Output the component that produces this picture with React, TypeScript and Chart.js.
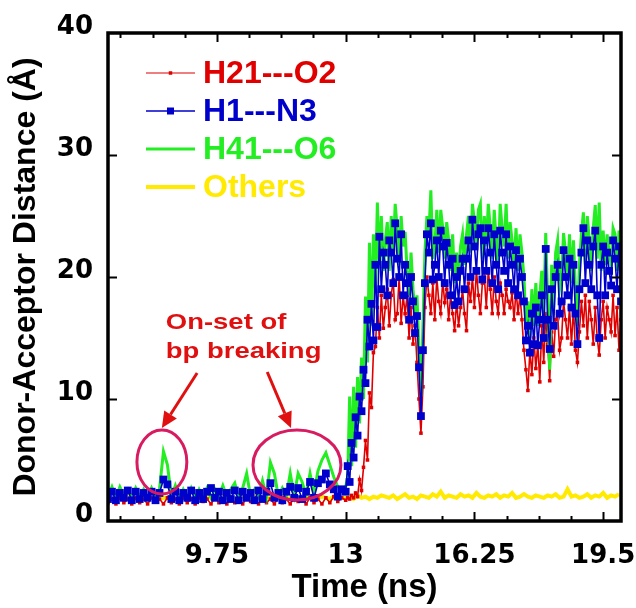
import React, { useEffect, useRef } from "react";
import { Chart, registerables } from "chart.js";

Chart.register(...registerables);

// ---------- sampling grids ----------
const BASE_START = 7.0; // ns, first stretch sampled every 0.1 ns
const BASE_STEP = 0.1;
const RUN_START = 13.0; // ns, second stretch sampled every 0.05 ns
const RUN_STEP = 0.05;
const OTHERS_START = 7.0;
const OTHERS_STEP = 0.1;

// ---------- axes ----------
const X_MIN = 7;
const X_MAX = 19.95;
const X_MAJOR_TICKS = [9.75, 13, 16.25, 19.5];
const X_MINOR_STEP = 0.8125;
const Y_MIN = 0;
const Y_MAX = 40;
const Y_STEP = 10;
const X_TITLE = "Time (ns)";
const Y_TITLE = "Donor-Acceptor Distance (Å)";

const SERIES_NAMES = ["H21---O2", "H1---N3", "H41---O6", "Others"];

// ---------- H21---O2 (red) ----------
const H21_O2_BASE = [
  1.5, 1.8, 1.4, 1.9, 1.5, 1.8, 1.4, 1.9, 1.5, 1.8,
  1.4, 1.9, 1.6, 1.8, 1.4, 1.9, 1.5, 1.8, 1.4, 1.9,
  1.5, 1.8, 1.4, 1.9, 1.6, 1.8, 1.4, 1.9, 1.5, 1.8,
  1.4, 1.9, 1.5, 1.8, 1.4, 1.9, 1.6, 1.8, 1.4, 1.9,
  1.5, 1.8, 1.4, 1.9, 1.5, 1.8, 1.4, 1.9, 1.6, 1.8,
  1.4, 1.9, 1.5, 1.8, 1.4, 1.9, 1.5, 2.0, 1.6, 1.9,
];
const H21_O2_RUN = [
  1.7, 1.9, 1.8, 2.1, 1.9, 2.3, 2.0, 3.4, 2.5, 4.4,
  6.6, 5.0, 10.5, 9.3, 13.8, 14.3, 17.5, 15.0, 18.5, 15.8,
  17.5, 19.0, 16.0, 18.5, 19.8, 16.5, 17.0, 20.0, 16.2, 18.5,
  17.0, 18.5, 15.0, 17.5, 14.5, 16.0, 13.0, 10.0, 7.2, 11.0,
  17.5, 20.0, 18.5, 17.0, 19.5, 16.5, 20.0, 18.0, 17.0, 19.7,
  17.9, 19.0, 16.5, 18.5, 17.0, 15.6, 18.0, 16.0, 17.5, 19.0,
  17.0, 15.6, 19.5, 18.0, 20.0, 17.5, 20.6, 18.5, 17.0, 19.5,
  20.0, 17.5, 20.5, 19.0, 17.0, 20.0, 18.0, 17.0, 19.5, 18.5,
  17.0, 19.0, 18.0, 17.5, 18.7, 16.5, 19.0, 17.0, 18.5, 16.5,
  14.0, 12.4, 10.7, 14.0, 12.0, 15.0, 12.5, 14.5, 11.4, 16.0,
  13.0, 17.0, 14.5, 11.5, 15.5, 13.5, 16.5, 17.0, 14.0, 15.0,
  18.0, 16.5, 15.0, 17.5, 14.5, 17.5, 14.0, 13.0, 15.5, 18.0,
  16.0, 18.5, 15.0, 18.0, 16.5, 14.5, 17.5, 15.0, 13.6, 16.5,
  18.0, 15.0, 17.5, 16.5, 15.5, 18.5, 15.2, 17.5, 14.0, 16.5,
];

// ---------- H1---N3 (blue) ----------
const H1_N3_BASE = [
  1.8, 2.4, 1.7, 2.3, 1.9, 2.5, 1.7, 2.4, 1.8, 2.3,
  1.9, 2.4, 1.7, 2.3, 3.4, 3.0, 1.8, 2.4, 1.7, 2.3,
  1.9, 2.5, 1.7, 2.3, 1.8, 2.4, 2.7, 1.9, 2.4, 1.7,
  2.3, 1.8, 2.5, 1.7, 2.4, 1.9, 2.3, 1.7, 2.5, 1.8,
  2.4, 3.1, 1.9, 2.3, 1.7, 2.4, 2.8, 1.9, 2.7, 1.8,
  2.4, 3.2, 1.9, 3.1, 3.4, 3.9, 3.0, 2.6, 2.0, 2.6,
];
const H1_N3_RUN = [
  2.4, 4.5, 3.2, 6.4, 5.2, 8.5, 7.0, 10.2, 9.0, 12.4,
  11.3, 16.5, 14.3, 17.8, 14.8, 21.0, 15.9, 23.3, 19.0, 22.0,
  21.0, 18.5, 23.0, 22.0, 19.5, 24.4, 21.5, 20.0, 23.5, 18.5,
  21.0, 19.5, 16.5, 20.0, 18.0, 15.4, 16.8, 12.6, 8.6, 14.0,
  19.5, 23.5, 22.0, 24.4, 19.8, 21.0, 23.0, 20.0, 23.8, 22.5,
  19.5, 22.8, 21.0, 18.5, 21.5, 17.7, 20.0, 18.0, 20.5, 21.5,
  19.0, 21.5, 23.0, 20.0, 24.7, 22.5, 20.5, 23.5, 24.0, 19.8,
  23.0, 20.5, 24.0, 22.0, 19.5, 23.5, 21.0, 19.0, 23.8, 22.0,
  20.5, 23.5, 19.5, 22.5, 21.0, 19.0, 22.2, 18.5, 21.5, 20.0,
  18.0, 14.8, 16.0, 13.8, 17.0, 14.5, 17.5, 14.4, 16.5, 18.5,
  15.0, 22.3, 16.5, 14.1, 19.0, 16.0, 20.0, 21.0, 17.0, 18.0,
  22.2, 20.0, 18.5, 21.5, 17.5, 21.0, 17.0, 14.5, 19.0, 22.0,
  24.0, 19.5, 23.0, 21.0, 19.0, 22.5, 23.8, 18.5, 15.0, 21.0,
  22.5, 18.5, 22.0, 20.5, 19.3, 23.0, 21.5, 19.0, 22.5, 18.0,
];

// ---------- H41---O6 (green) ----------
const H41_O6_BASE = [
  2.0, 2.8, 1.9, 2.8, 2.1, 2.6, 1.9, 2.7, 2.0, 2.6,
  1.9, 2.7, 2.0, 2.6, 5.7, 4.6, 2.0, 2.9, 1.9, 2.6,
  2.0, 2.7, 1.9, 2.6, 2.0, 2.7, 1.9, 2.6, 2.0, 2.9,
  2.0, 2.6, 3.1, 1.9, 2.7, 3.9, 2.0, 2.6, 2.0, 3.3,
  2.0, 4.8, 3.9, 2.0, 2.7, 2.0, 3.9, 2.1, 3.9, 3.2,
  2.1, 3.9, 2.3, 4.1, 5.0, 5.6, 4.6, 3.6, 2.8, 2.6,
];
const H41_O6_RUN = [
  2.8, 3.6, 10.2, 4.5, 11.0, 6.0, 11.8, 8.0, 13.4, 10.0,
  18.4, 13.0, 22.8, 16.0, 23.5, 19.0, 26.1, 21.0, 25.0, 20.5,
  23.0, 24.5, 20.5, 25.0, 22.0, 26.0, 24.0, 21.0, 25.0, 22.5,
  23.7, 20.5, 18.5, 22.0, 19.0, 17.0, 18.5, 14.0, 10.2, 16.0,
  22.0, 25.0, 23.5, 27.1, 21.5, 22.5, 25.5, 22.0, 25.5, 24.0,
  21.5, 24.5, 23.0, 20.5, 23.5, 19.5, 22.0, 20.0, 22.5, 23.5,
  21.0, 23.5, 25.0, 22.0, 26.0, 24.5, 22.5, 25.5, 26.0, 21.5,
  25.0, 22.5, 26.0, 24.0, 21.5, 25.5, 23.0, 21.0, 26.0, 24.0,
  22.5, 26.0, 21.5, 24.5, 23.0, 21.0, 24.0, 20.5, 23.5, 22.0,
  20.0, 16.0, 18.0, 15.0, 19.0, 16.0, 19.5, 16.0, 18.5, 20.5,
  17.0, 23.6, 18.0, 12.4, 21.0, 17.5, 22.0, 23.0, 19.0, 20.0,
  23.6, 22.0, 20.0, 23.5, 19.5, 23.0, 19.0, 16.0, 21.0, 23.5,
  25.3, 21.0, 25.0, 23.0, 20.5, 24.0, 25.9, 21.5, 26.1, 20.5,
  23.8, 21.0, 23.5, 22.0, 21.0, 24.0, 23.5, 20.5, 23.8, 20.0,
];

// ---------- Others (yellow) ----------
const OTHERS = [
  1.9, 1.8, 2.0, 1.9, 1.8, 2.0, 1.9, 1.8, 1.9, 2.0,
  1.8, 1.9, 2.0, 1.8, 1.9, 1.9, 2.0, 1.8, 1.9, 2.0,
  1.9, 1.8, 2.0, 1.9, 1.8, 2.0, 1.9, 1.9, 1.8, 2.0,
  1.9, 2.0, 1.8, 1.9, 2.0, 1.9, 1.8, 2.0, 1.9, 1.8,
  2.0, 1.9, 1.8, 1.9, 2.0, 1.8, 1.9, 2.0, 1.9, 1.8,
  1.9, 2.0, 1.8, 1.9, 2.0, 1.9, 1.8, 2.0, 1.9, 1.9,
  1.9, 2.0, 1.8, 2.1, 1.9, 2.0, 1.8, 2.0, 1.9, 2.1,
  2.0, 1.9, 2.1, 1.8, 2.0, 2.2, 1.9, 2.0, 1.8, 2.1,
  2.0, 1.9, 2.2, 2.0, 2.4, 1.9, 2.1, 2.0, 1.9, 2.2,
  2.0, 2.1, 1.9, 2.3, 2.0, 1.9, 2.1, 2.0, 2.2, 1.9,
  2.1, 2.0, 2.3, 1.9, 2.0, 2.2, 2.0, 1.9, 2.1, 2.0,
  1.9, 2.1, 2.0, 2.2, 1.9, 2.0, 2.6, 2.0, 2.1, 1.9,
  2.0, 2.2, 1.9, 2.1, 2.0, 2.3, 1.9, 2.1, 2.0, 2.2,
];

// ---------- annotation (data coordinates) ----------
const NOTE_LINES = ["On-set of", "bp breaking"];
const NOTE_ANCHOR = { x: 8.46, y: 15.74 }; // left / baseline of first line
const ARROWS = [
  { from: { x: 9.25, y: 12.13 }, to: { x: 8.36, y: 7.62 } },
  { from: { x: 11.02, y: 12.21 }, to: { x: 11.62, y: 7.62 } },
];
const ELLIPSES = [
  { x: 8.36, y: 4.84, rx: 0.63, ry: 2.62 },
  { x: 11.77, y: 4.59, rx: 1.11, ry: 2.87 },
];

// ---------- styles ----------
const RED = "#e00000";
const BLUE = "#0000cc";
const GREEN = "#22ee22";
const YELLOW = "#ffea00";
const NOTE_RED = "#e01010";
const RING = "#d81b60";
const SANS = "'Liberation Sans', Arial, sans-serif";
const TICK_FONT = "'DejaVu Sans', sans-serif";

function buildSeries(base: number[], run: number[]) {
  const pts: { x: number; y: number }[] = [];
  base.forEach((v, i) => pts.push({ x: +(BASE_START + i * BASE_STEP).toFixed(3), y: v }));
  run.forEach((v, i) => pts.push({ x: +(RUN_START + i * RUN_STEP).toFixed(3), y: v }));
  return pts;
}
function buildOthers(vals: number[]) {
  return vals.map((v, i) => ({ x: +(OTHERS_START + i * OTHERS_STEP).toFixed(3), y: v }));
}

const decorPlugin = {
  id: "decor",
  afterDraw(chart: any) {
    const { ctx, chartArea: a, scales } = chart;
    const xs = scales.x;
    const ys = scales.y;
    const px = (v: number) => xs.getPixelForValue(v);
    const py = (v: number) => ys.getPixelForValue(v);
    ctx.save();

    // tick marks (inward, all four sides)
    ctx.strokeStyle = "#000";
    ctx.lineWidth = 2;
    const kStart = Math.ceil((X_MIN - X_MAJOR_TICKS[0]) / X_MINOR_STEP);
    const kEnd = Math.floor((X_MAX - X_MAJOR_TICKS[0]) / X_MINOR_STEP);
    for (let k = kStart; k <= kEnd; k++) {
      const v = X_MAJOR_TICKS[0] + k * X_MINOR_STEP;
      const major = ((k % 4) + 4) % 4 === 0;
      const len = major ? 9 : 5;
      const x = Math.round(px(v)) + 0.5;
      ctx.beginPath();
      ctx.moveTo(x, a.bottom);
      ctx.lineTo(x, a.bottom - len);
      ctx.moveTo(x, a.top);
      ctx.lineTo(x, a.top + len);
      ctx.stroke();
    }
    for (let v = Y_MIN + Y_STEP; v < Y_MAX; v += Y_STEP) {
      const y = Math.round(py(v)) + 0.5;
      ctx.beginPath();
      ctx.moveTo(a.left, y);
      ctx.lineTo(a.left + 9, y);
      ctx.moveTo(a.right, y);
      ctx.lineTo(a.right - 9, y);
      ctx.stroke();
    }
    // frame
    ctx.lineWidth = 3.5;
    ctx.strokeRect(a.left, a.top, a.right - a.left, a.bottom - a.top);

    // legend
    const rows = [
      { name: SERIES_NAMES[0], color: RED, lw: 1.2, mark: 3.5 },
      { name: SERIES_NAMES[1], color: BLUE, lw: 1.5, mark: 7 },
      { name: SERIES_NAMES[2], color: GREEN, lw: 3, mark: 0 },
      { name: SERIES_NAMES[3], color: YELLOW, lw: 4, mark: 0 },
    ];
    const legX1 = 146;
    const legX2 = 195;
    const rowY = [73, 111, 149, 187];
    ctx.font = `bold 32px ${SANS}`;
    ctx.textBaseline = "middle";
    ctx.textAlign = "left";
    rows.forEach((r, i) => {
      const y = rowY[i];
      ctx.strokeStyle = r.color;
      ctx.lineWidth = r.lw;
      ctx.beginPath();
      ctx.moveTo(legX1, y);
      ctx.lineTo(legX2, y);
      ctx.stroke();
      if (r.mark) {
        ctx.fillStyle = r.color;
        const cx = (legX1 + legX2) / 2;
        ctx.fillRect(cx - r.mark / 2, y - r.mark / 2, r.mark, r.mark);
      }
      ctx.fillStyle = r.color;
      ctx.fillText(r.name, 203, y + 1);
    });

    // annotation text (slightly widened like the source)
    ctx.fillStyle = NOTE_RED;
    ctx.font = `bold 22.5px ${SANS}`;
    ctx.textBaseline = "alphabetic";
    const tx = px(NOTE_ANCHOR.x);
    const ty = py(NOTE_ANCHOR.y);
    NOTE_LINES.forEach((line, i) => {
      ctx.save();
      ctx.translate(tx, ty + i * 29);
      ctx.scale(1.22, 1);
      ctx.fillText(line, 0, 0);
      ctx.restore();
    });

    // arrows
    ctx.strokeStyle = NOTE_RED;
    ctx.fillStyle = NOTE_RED;
    ctx.lineWidth = 3;
    ARROWS.forEach((ar) => {
      const x0 = px(ar.from.x), y0 = py(ar.from.y);
      const x1 = px(ar.to.x), y1 = py(ar.to.y);
      const ang = Math.atan2(y1 - y0, x1 - x0);
      const hl = 16, hw = 7.5;
      const bx = x1 - hl * Math.cos(ang), by = y1 - hl * Math.sin(ang);
      ctx.beginPath();
      ctx.moveTo(x0, y0);
      ctx.lineTo(bx, by);
      ctx.stroke();
      ctx.beginPath();
      ctx.moveTo(x1, y1);
      ctx.lineTo(bx + hw * Math.sin(ang), by - hw * Math.cos(ang));
      ctx.lineTo(bx - hw * Math.sin(ang), by + hw * Math.cos(ang));
      ctx.closePath();
      ctx.fill();
    });

    // rings
    ctx.strokeStyle = RING;
    ctx.lineWidth = 3;
    ELLIPSES.forEach((e) => {
      const cx = px(e.x), cy = py(e.y);
      const rx = Math.abs(px(e.x + e.rx) - cx);
      const ry = Math.abs(py(e.y + e.ry) - cy);
      ctx.beginPath();
      ctx.ellipse(cx, cy, rx, ry, 0, 0, Math.PI * 2);
      ctx.stroke();
    });

    ctx.restore();
  },
};

export default function App() {
  const canvasRef = useRef<HTMLCanvasElement | null>(null);

  useEffect(() => {
    const canvas = canvasRef.current;
    if (!canvas) return;
    const chart = new Chart(canvas, {
      type: "line",
      data: {
        datasets: [
          {
            label: SERIES_NAMES[1],
            data: buildSeries(H1_N3_BASE, H1_N3_RUN),
            borderColor: BLUE,
            backgroundColor: BLUE,
            borderWidth: 1.6,
            pointStyle: "rect",
            pointRadius: 5.5,
            pointBorderWidth: 0,
            order: 0,
          },
          {
            label: SERIES_NAMES[2],
            data: buildSeries(H41_O6_BASE, H41_O6_RUN),
            borderColor: GREEN,
            backgroundColor: GREEN,
            borderWidth: 3,
            pointRadius: 0,
            order: 1,
          },
          {
            label: SERIES_NAMES[0],
            data: buildSeries(H21_O2_BASE, H21_O2_RUN),
            borderColor: RED,
            backgroundColor: RED,
            borderWidth: 1.6,
            pointStyle: "rect",
            pointRadius: 2.5,
            pointBorderWidth: 0,
            order: 2,
          },
          {
            label: SERIES_NAMES[3],
            data: buildOthers(OTHERS),
            borderColor: YELLOW,
            backgroundColor: YELLOW,
            borderWidth: 4,
            pointRadius: 0,
            order: 3,
          },
        ],
      },
      options: {
        responsive: false,
        animation: false,
        devicePixelRatio: 1,
        events: [],
        layout: { padding: { top: 33, right: 15, left: 0, bottom: 0 } },
        elements: { line: { tension: 0 } },
        plugins: { legend: { display: false }, tooltip: { enabled: false } },
        scales: {
          x: {
            type: "linear",
            min: X_MIN,
            max: X_MAX,
            grid: { display: false, drawTicks: false },
            border: { display: false },
            afterBuildTicks: (s: any) => {
              s.ticks = X_MAJOR_TICKS.map((v) => ({ value: v }));
            },
            afterFit: (s: any) => {
              s.height = 87;
              s.paddingLeft = 0;
              s.paddingRight = 0;
            },
            ticks: {
              autoSkip: false,
              maxRotation: 0,
              padding: 20,
              color: "#000",
              font: { family: TICK_FONT, size: 26, weight: "bold" },
              callback: (v: any) => String(v),
            },
            title: {
              display: true,
              text: X_TITLE,
              color: "#000",
              font: { family: SANS, size: 33, weight: "bold" },
              padding: { top: 0, bottom: 0 },
            },
          },
          y: {
            type: "linear",
            min: Y_MIN,
            max: Y_MAX,
            grid: { display: false, drawTicks: false },
            border: { display: false },
            afterFit: (s: any) => {
              s.width = 108;
              s.paddingTop = 0;
              s.paddingBottom = 0;
            },
            ticks: {
              stepSize: Y_STEP,
              padding: 15,
              labelOffset: -6,
              color: "#000",
              font: { family: TICK_FONT, size: 26, weight: "bold" },
            },
            title: {
              display: true,
              text: Y_TITLE,
              color: "#000",
              font: { family: SANS, size: 32, weight: "bold" },
              padding: { top: 7, bottom: 0 },
            },
          },
        },
      },
      plugins: [decorPlugin],
    } as any);
    return () => chart.destroy();
  }, []);

  return (
    <div style={{ position: "fixed", left: 0, top: 0, width: 636, height: 608, background: "#fff" }}>
      <canvas ref={canvasRef} width={636} height={608} style={{ display: "block", width: 636, height: 608 }} />
    </div>
  );
}
